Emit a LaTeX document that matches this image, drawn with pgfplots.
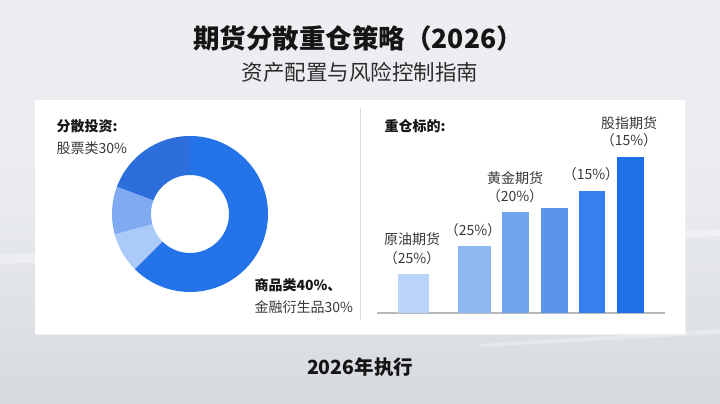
\documentclass[border=0pt]{standalone}
\usepackage{fontspec}
\setmainfont{Noto Sans CJK SC}
\usepackage{pgfplots}
\pgfplotsset{compat=1.18}
\definecolor{donutA}{HTML}{2473E8}
\definecolor{donutB}{HTML}{ABCAF7}
\definecolor{donutC}{HTML}{80AAF1}
\definecolor{donutD}{HTML}{2C6EDC}
\definecolor{barA}{HTML}{B9D4F8}
\definecolor{barB}{HTML}{8FB8F3}
\definecolor{barC}{HTML}{70A4EF}
\definecolor{barD}{HTML}{5C94EB}
\definecolor{barE}{HTML}{3580EC}
\definecolor{barF}{HTML}{1F6FE6}
\definecolor{txt}{HTML}{151515}
\begin{document}
\begin{tikzpicture}[x=1pt,y=1pt]
\path[use as bounding box] (0,0) rectangle (720,404);
\shade[top color={rgb,255:red,236;green,238;blue,241}, bottom color={rgb,255:red,214;green,217;blue,222}, middle color={rgb,255:red,233;green,235;blue,238}] (0,0) rectangle (720,404);
% subtle light streaks
\fill[white, opacity=0.35] (0,150) -- (720,175) -- (720,168) -- (0,140) -- cycle;
\fill[white, opacity=0.3] (480,60) -- (720,75) -- (720,70) -- (480,57) -- cycle;
% panel
\fill[black!6] (36,69) rectangle (686,303);
\fill[white] (35,70) rectangle (685,304);
\draw[black!15, line width=1pt] (360,296) -- (360,84);
% titles
\node[text=txt, font=\fontsize{26.5}{30}\selectfont\bfseries] at (358,366) {期货分散重仓策略（2026）};
\node[text=txt!90, font=\fontsize{21.5}{25}\selectfont] at (360,332) {资产配置与风险控制指南};
\node[text=txt, font=\fontsize{19.5}{22}\selectfont\bfseries] at (360,37) {2026年执行};
% donut labels
\node[anchor=west, text=txt, font=\fontsize{14}{16}\selectfont\bfseries] at (53,278) {分散投资:};
\node[anchor=west, text=txt!85, font=\fontsize{14}{16}\selectfont] at (53,256) {股票类30\%};
\node[anchor=west, text=txt, font=\fontsize{14}{16}\selectfont\bfseries] at (251,119) {商品类40\%、};
\node[anchor=west, text=txt!85, font=\fontsize{14}{16}\selectfont] at (251,97) {金融衍生品30\%};
\node[anchor=west, text=txt, font=\fontsize{14}{16}\selectfont\bfseries] at (381,278) {重仓标的:};
% donut
\begin{axis}[at={(110,110)}, anchor=south west, x=1pt, y=1pt, xmin=0, xmax=160, ymin=0, ymax=160, hide axis, scale only axis, clip=false, disabledatascaling]
\pgfmathsetmacro\st{90}
\foreach \v/\c in {62.5/donutA, 8.3/donutB, 9.9/donutC, 19.3/donutD}{
  \pgfmathsetmacro\en{\st-3.6*\v}
  \edef\tmp{\noexpand\fill[\c] (axis cs:80,80) ++(\st:78pt) arc[start angle=\st, end angle=\en, radius=78pt] -- ++(\en:-39pt) arc[start angle=\en, end angle=\st, radius=39pt] -- cycle;}
  \tmp
  \global\let\st\en
}
\end{axis}
% bars
\begin{axis}[at={(370,91)}, anchor=south west, x=1pt, y=1pt, xmin=370, xmax=670, ymin=0, ymax=200, hide axis, scale only axis, clip=false]
\draw[black!28, line width=1.6pt] (axis cs:377,0) -- (axis cs:665,0);
\addplot[ybar, bar width=31pt, bar shift=0pt, fill=barA, draw=none] coordinates {(413,39)};
\addplot[ybar, bar width=33pt, bar shift=0pt, fill=barB, draw=none] coordinates {(474,67)};
\addplot[ybar, bar width=27pt, bar shift=0pt, fill=barC, draw=none] coordinates {(515.5,101)};
\addplot[ybar, bar width=27pt, bar shift=0pt, fill=barD, draw=none] coordinates {(554,105)};
\addplot[ybar, bar width=26.5pt, bar shift=0pt, fill=barE, draw=none] coordinates {(592,122)};
\addplot[ybar, bar width=27pt, bar shift=0pt, fill=barF, draw=none] coordinates {(630,156)};
\begin{scope}[every node/.style={text=txt!85, font=\fontsize{14}{16}\selectfont}]
\node at (axis cs:412,74) {原油期货};
\node at (axis cs:412,55) {（25\%）};
\node at (axis cs:473,83) {（25\%）};
\node at (axis cs:515,135) {黄金期货};
\node at (axis cs:515,117) {（20\%）};
\node at (axis cs:591,139) {（15\%）};
\node at (axis cs:629,190) {股指期货};
\node at (axis cs:629,173) {（15\%）};
\end{scope}
\end{axis}
\end{tikzpicture}
\end{document}
